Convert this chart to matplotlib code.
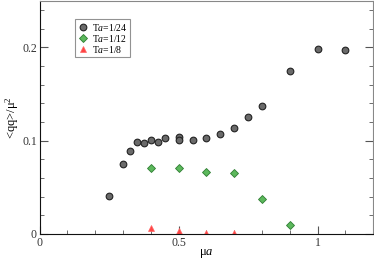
import matplotlib
matplotlib.use("Agg")
from matplotlib import pyplot as plt
from matplotlib.ticker import MultipleLocator

# Ta = 1/24
mu_24 = [0.25, 0.30, 0.325, 0.35, 0.375, 0.40, 0.425, 0.45, 0.50, 0.50,
         0.55, 0.60, 0.65, 0.70, 0.75, 0.80, 0.90, 1.00, 1.10]
qq_24 = [0.041, 0.075, 0.0886, 0.098, 0.0975, 0.101, 0.099, 0.103, 0.104, 0.101,
         0.101, 0.103, 0.107, 0.114, 0.125, 0.137, 0.174, 0.198, 0.1975]

# Ta = 1/12
mu_12 = [0.40, 0.50, 0.60, 0.70, 0.80, 0.90]
qq_12 = [0.0704, 0.0704, 0.066, 0.0657, 0.038, 0.0096]

# Ta = 1/8
mu_8 = [0.40, 0.50, 0.60, 0.70]
qq_8 = [0.006, 0.0036, 0.0014, 0.0007]

labels = ["T$a$=1/24", "T$a$=1/12", "T$a$=1/8"]

plt.rcParams["font.family"] = "Liberation Serif"
plt.rcParams["mathtext.fontset"] = "custom"
plt.rcParams["mathtext.it"] = "Liberation Serif:italic"
plt.rcParams["mathtext.rm"] = "Liberation Serif"

fig = plt.figure(figsize=(3.74, 2.6), dpi=100)
ax = fig.add_axes([0.106, 0.1, 0.892, 0.898])

# Plot data
ax.plot(mu_24, qq_24, "o", ms=4.8, mfc="#6a6a6a", mec="#222222", mew=0.8, label=labels[0])
ax.plot(mu_12, qq_12, "D", ms=4.2, mfc="#5cb85c", mec="#2e7d32", mew=0.6, label=labels[1])
ax.plot(mu_8, qq_8, "^", ms=4.0, mfc="#ff4444", mec="#ff6666", mew=0.5, label=labels[2])

# Axes limits and ticks
ax.set_xlim(0, 1.2)
ax.set_ylim(0, 0.25)
ax.xaxis.set_major_locator(MultipleLocator(0.5))
ax.xaxis.set_minor_locator(MultipleLocator(0.1))
ax.yaxis.set_major_locator(MultipleLocator(0.1))
ax.yaxis.set_minor_locator(MultipleLocator(0.02))
ax.xaxis.set_major_formatter(matplotlib.ticker.FuncFormatter(lambda v, p: f"{v:g}"))
ax.yaxis.set_major_formatter(matplotlib.ticker.FuncFormatter(lambda v, p: f"{v:g}"))
ax.tick_params(which="both", direction="in", top=False, right=True, labelsize=8.5)
ax.tick_params(which="major", length=6, width=0.8, color="#555555")
ax.tick_params(which="minor", length=3, width=0.6, color="#555555")
ax.tick_params(axis="both", pad=2, labelcolor="#333333")

for side in ["top", "right"]:
    ax.spines[side].set_color("#888888")
for side in ["left", "bottom"]:
    ax.spines[side].set_color("#111111")

ax.set_xlabel("$\\mathrm{\\mu}a$", fontsize=9, labelpad=-1.5)
ax.set_ylabel("<qq>/$\\mathrm{\\mu}^2$", fontsize=9, labelpad=1)

# Configure legend
leg = ax.legend(loc="upper left", bbox_to_anchor=(0.09, 0.94), fontsize=7, frameon=True,
                fancybox=False, edgecolor="#777777", handletextpad=0.3,
                borderpad=0.25, labelspacing=0.0, handlelength=1.2)
leg.get_frame().set_linewidth(0.8)

plt.savefig("out.png", dpi=100)
